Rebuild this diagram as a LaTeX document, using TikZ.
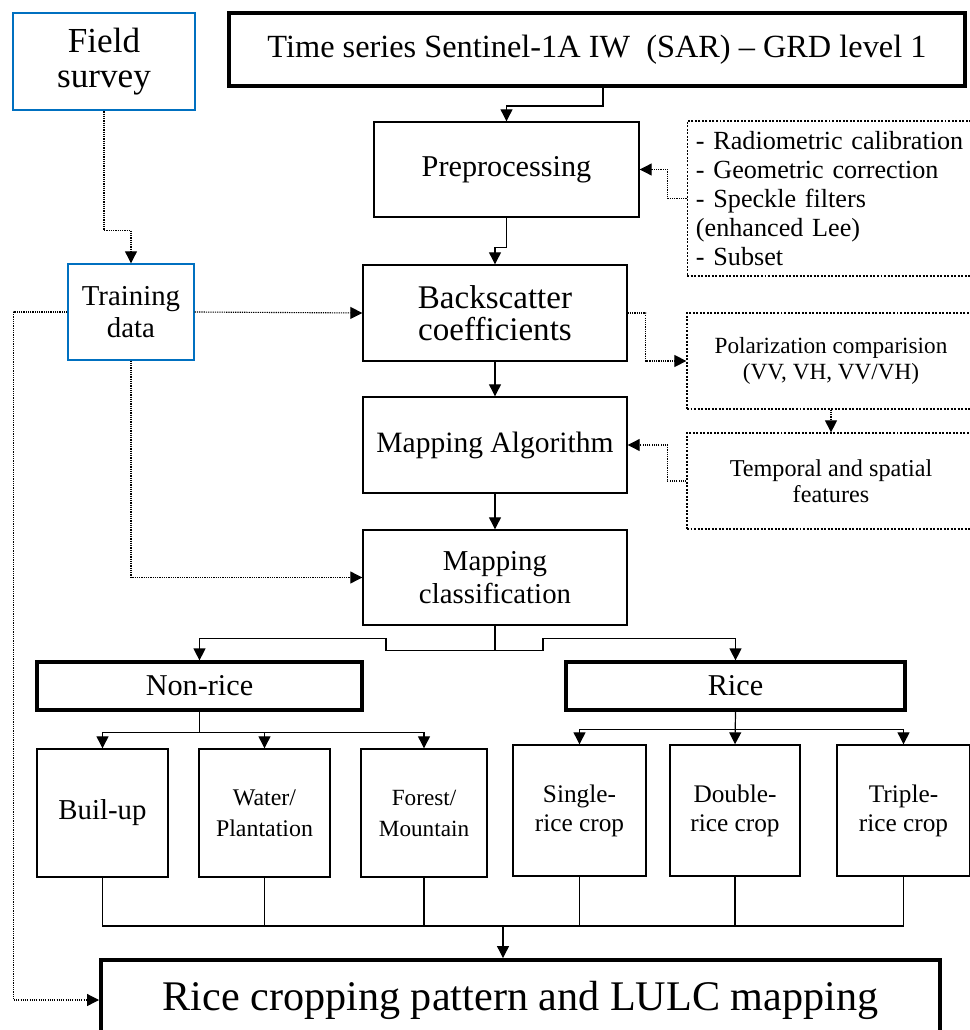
\documentclass[tikz,border=0pt]{standalone}
\usepackage{fontspec}
\setmainfont{Liberation Serif}
\usetikzlibrary{arrows.meta}
\definecolor{surveyblue}{RGB}{0,112,192}

\begin{document}
\begin{tikzpicture}[x=0.025cm,y=-0.025cm,
  wh/.style args={#1x#2}{minimum width=#1*0.025cm,minimum height=#2*0.025cm},
  box/.style={draw,line width=1pt,align=center,inner sep=1pt,
    font=\fontsize{21.5}{24}\selectfont},
  heavy/.style={box,line width=2.8pt},
  note/.style={draw,line width=0.9pt,dash pattern={on 1.4pt off 1.1pt},
    align=center,inner sep=1pt,font=\fontsize{16.5}{18.5}\selectfont},
  link/.style={line width=0.85pt,-{Triangle[length=8.5pt,width=8.5pt]}},
  dlink/.style={link,line width=0.8pt,dash pattern={on 0.8pt off 0.8pt}}]
  \useasboundingbox (0,0) rectangle (970,1030);
  \clip (0,0) rectangle (970,1030);
  \node[box,draw=surveyblue,line width=2pt,wh=182x97,
    font=\fontsize{25}{25}\selectfont] (field) at (104,61.5) {Field\\survey};
  \node[heavy,wh=736x73,font=\fontsize{23}{25}\selectfont] (series) at (597,49.5)
    {Time series Sentinel-1A IW\ \ (SAR) -- GRD level 1};
  \node[box,wh=265x95] (prep) at (506.5,169.5) {Preprocessing};
  \node[note,text width=6.75cm,inner xsep=0.22cm,align=left,minimum height=3.875cm,
    font=\fontsize{18.6}{20.6}\selectfont] (steps) at (831,198.5)
    {- Radiometric calibration\\- Geometric correction\\- Speckle filters\\(enhanced Lee)\\- Subset};
  \node[box,draw=surveyblue,wh=126x96,font=\fontsize{20.5}{23}\selectfont] (train) at (131,312)
    {Training\\data};
  \node[box,wh=264x96,font=\fontsize{23.5}{23}\selectfont] (backsc) at (495,313)
    {Backscatter\\coefficients};
  \node[note,wh=288x96] (polar) at (831,361) {Polarization comparision\\(VV, VH, VV/VH)};
  \node[box,wh=264x96,font=\fontsize{21}{24}\selectfont] (algo) at (495,445) {Mapping Algorithm};
  \node[note,wh=288x96,font=\fontsize{17.2}{18.5}\selectfont] (feat) at (831,481)
    {Temporal and spatial\\features};
  \node[box,wh=264x95,font=\fontsize{20.5}{23}\selectfont] (classif) at (495,577.5)
    {Mapping\\classification};
  \node[heavy,line width=2.3pt,wh=325x48] (nonrice) at (199.5,686) {Non-rice};
  \node[heavy,line width=2.3pt,wh=339x48] (rice) at (735.5,686) {Rice};
  \foreach \n/\x/\w/\t/\fs in {built/102.5/131/Buil-up/20.5, water/264.5/131/{Water/\\Plantation}/17,
      forest/424/126/{Forest/\\Mountain}/16.5}
    {\node[box,wh=\w x128,font=\fontsize{\fs}{22}\selectfont] (\n) at (\x,813) {\t};}
  \foreach \n/\x/\w/\t in {single/579.5/133/Single-, double/735/130/Double-, triple/903.5/133/Triple-}
    {\node[box,wh=\w x131,font=\fontsize{18}{20.5}\selectfont] (\n) at (\x,810.5) {\t\\rice crop};}
  \node[heavy,wh=839x80,font=\fontsize{30}{32}\selectfont] (final) at (520.5,1000)
    {Rice cropping pattern and LULC mapping};
  \draw[link] ([xshift=0.15cm]series.south) -- ++(0,18) -| (prep.north);
  \draw[link] (prep.south) -- ++(0,30) -| (backsc.north);
  \draw[dlink] (steps.west) -- ++(-19,0) |- (prep.east);
  \draw[dlink] (field.south) -- ++(0,119) -| (train.north);
  \draw[dlink] (train.east) -- (backsc.west);
  \draw[dlink] (backsc.east) -- ++(18,0) |- (polar.west);
  \draw[dlink] (polar.south) -- (feat.north);
  \draw[dlink] (feat.west) -- ++(-19,0) |- (algo.east);
  \draw[link] (backsc) -- (algo);
  \draw[link] (algo) -- (classif);
  \draw[dlink] (train.south) |- (classif.west);
  \draw[dlink] (train.west) -- ++(-54,0) |- (final.west);
  \draw[link] (classif.south) -- ++(0,25) -- ++(-109,0) -- ++(0,-12) -| (nonrice.north);
  \draw[link] (classif.south) ++(0,25) -- ++(48,0) -- ++(0,-12) -| (rice.north);
  \draw[line width=0.85pt] (nonrice.south) -- ++(0,21) coordinate (nr);
  \foreach \c in {built,water,forest}
    \draw[link] (nr) -| (\c.north);
  \draw[link] (rice.south) -- (double.north);
  \foreach \c in {single,triple}
    \draw[link] (rice.south) ++(0,18) -| (\c.north);
  \coordinate (join) at (503,926);
  \foreach \c in {built,water,forest,single,double,triple}
    \draw[line width=0.8pt] (\c.south) |- (join);
  \draw[link] (join) -- (join |- final.north);
\end{tikzpicture}
\end{document}
